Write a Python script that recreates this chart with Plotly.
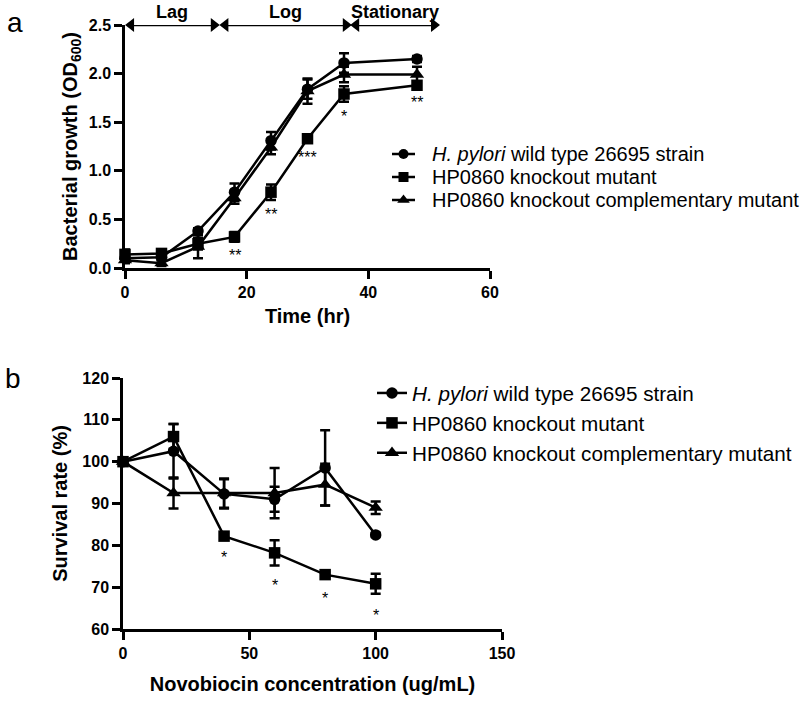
import plotly.graph_objects as go

W, H = 800, 703
FONT = "Liberation Sans, Arial, sans-serif"

# ---------------- Panel a data ----------------
time_hr = [0, 6, 12, 18, 24, 30, 36, 48]
wt_growth = [0.10, 0.11, 0.38, 0.78, 1.31, 1.84, 2.11, 2.15]
wt_growth_err = [0.03, 0.03, 0.03, 0.09, 0.09, 0.10, 0.10, 0.03]
ko_growth = [0.14, 0.15, 0.25, 0.32, 0.78, 1.33, 1.79, 1.88]
ko_growth_err = [0.05, 0.04, 0.06, 0.05, 0.08, 0.04, 0.08, 0.04]
comp_growth = [0.08, 0.05, 0.22, 0.72, 1.24, 1.82, 1.99, 1.99]
comp_growth_err = [0.03, 0.03, 0.12, 0.06, 0.07, 0.13, 0.08, 0.08]

sig_a_x = [18, 24, 30, 36, 48]
sig_a_y = [0.17, 0.59, 1.18, 1.60, 1.74]
sig_a_text = ["**", "**", "***", "*", "**"]

phase_names = ["Lag", "Log", "Stationary"]
phase_start = [1.0, 16.5, 38.0]
phase_end = [14.6, 36.3, 50.8]
phase_level = 2.5

# ---------------- Panel b data ----------------
novo_conc = [0, 20, 40, 60, 80, 100]
wt_surv = [100, 102.5, 92.3, 91.0, 98.5, 82.5]
wt_surv_err = [0.5, 6.5, 3.5, 3.0, 9.0, 0.5]
ko_surv = [100, 106.0, 82.2, 78.2, 73.0, 70.8]
ko_surv_err = [0.5, 3.0, 0.8, 3.0, 0.6, 2.4]
comp_surv = [100, 92.5, 92.5, 92.5, 94.5, 89.0]
comp_surv_err = [0.5, 3.7, 3.5, 6.0, 5.0, 1.5]

sig_b_x = [40, 60, 80, 100]
sig_b_y = [78.0, 71.3, 68.2, 64.2]
sig_b_text = ["*", "*", "*", "*"]

names = ["<i>H. pylori</i> wild type 26695 strain",
         "HP0860 knockout mutant",
         "HP0860 knockout complementary mutant"]

# ---------------- styles ----------------
symbols = ["circle", "square", "triangle-up"]
msizes = [11.5, 11.5, 12.5]
# compact legend for panel a, laid out on a small helper axis (pixel units)
LEG_X0, LEG_X1, LEG_Y0, LEG_Y1 = 380, 800, 135, 220
leg_a_rows = [154, 177, 200]
leg_a_line = (392, 415)
leg_a_text_x = 430

fig = go.Figure()

def add_series(x, y, err, i, xa, ya, leg, show):
    fig.add_trace(go.Scatter(
        x=x, y=y, mode="lines+markers", name=names[i],
        xaxis=xa, yaxis=ya, legend=leg, showlegend=show, cliponaxis=False,
        line=dict(color="black", width=2.5),
        marker=dict(symbol=symbols[i], size=msizes[i], color="black"),
        error_y=dict(type="data", array=err, visible=True,
                     color="black", thickness=2.5, width=5),
    ))

add_series(time_hr, wt_growth, wt_growth_err, 0, "x", "y", "legend", False)
add_series(time_hr, ko_growth, ko_growth_err, 1, "x", "y", "legend", False)
add_series(time_hr, comp_growth, comp_growth_err, 2, "x", "y", "legend", False)
add_series(novo_conc, wt_surv, wt_surv_err, 0, "x2", "y2", "legend2", True)
add_series(novo_conc, ko_surv, ko_surv_err, 1, "x2", "y2", "legend2", True)
add_series(novo_conc, comp_surv, comp_surv_err, 2, "x2", "y2", "legend2", True)

# growth phase double arrows
for s, e in zip(phase_start, phase_end):
    fig.add_trace(go.Scatter(
        x=[s, e], y=[phase_level, phase_level], mode="lines+markers",
        xaxis="x", yaxis="y", showlegend=False, hoverinfo="skip", cliponaxis=False,
        line=dict(color="black", width=2.5),
        marker=dict(symbol=["triangle-left", "triangle-right"], size=12, color="black")))

annotations = []
for i, row in enumerate(leg_a_rows):
    fig.add_trace(go.Scatter(
        x=list(leg_a_line), y=[row, row], mode="lines", xaxis="x3", yaxis="y3",
        showlegend=False, hoverinfo="skip", cliponaxis=False,
        line=dict(color="black", width=2.5)))
    fig.add_trace(go.Scatter(
        x=[sum(leg_a_line) / 2], y=[row], mode="markers", xaxis="x3", yaxis="y3",
        showlegend=False, hoverinfo="skip", cliponaxis=False,
        marker=dict(symbol=symbols[i], size=msizes[i] - 1.5, color="black")))
    annotations.append(dict(x=leg_a_text_x, y=row, xref="x3", yref="y3", text=names[i],
                            showarrow=False, xanchor="left", yanchor="middle",
                            font=dict(family=FONT, size=20, color="black")))

tickfont = dict(family=FONT, size=16, color="black", weight="bold")
titlefont = dict(family=FONT, size=20, color="black", weight="bold")
axis_common = dict(showline=True, linecolor="black", linewidth=2.5,
                   ticks="outside", ticklen=8, tickwidth=2.5, tickcolor="black",
                   showgrid=False, zeroline=False, tickfont=tickfont, automargin=False)

for sx, sy, st in zip(sig_a_x, sig_a_y, sig_a_text):
    annotations.append(dict(x=sx, y=sy, xref="x", yref="y", text=st, showarrow=False,
                            yshift=-4, font=dict(family=FONT, size=16, color="black")))
for sx, sy, st in zip(sig_b_x, sig_b_y, sig_b_text):
    annotations.append(dict(x=sx, y=sy, xref="x2", yref="y2", text=st, showarrow=False,
                            yshift=-4, font=dict(family=FONT, size=16, color="black")))
for nm, s, e in zip(phase_names, phase_start, phase_end):
    annotations.append(dict(x=(s + e) / 2, y=phase_level, xref="x", yref="y", text=nm,
                            showarrow=False, yshift=13,
                            font=dict(family=FONT, size=18, color="black", weight="bold")))
annotations.append(dict(x=5 / W, y=1 - 23 / H, xref="paper", yref="paper", text="a",
                        showarrow=False, xanchor="left", yanchor="middle",
                        font=dict(family=FONT, size=28, color="black")))
annotations.append(dict(x=3 / W, y=1 - 378 / H, xref="paper", yref="paper", text="b",
                        showarrow=False, xanchor="left", yanchor="middle",
                        font=dict(family=FONT, size=28, color="black")))

fig.update_layout(
    width=W, height=H, margin=dict(l=0, r=0, t=0, b=0, autoexpand=False),
    paper_bgcolor="white", plot_bgcolor="rgba(0,0,0,0)",
    font=dict(family=FONT, color="black"),
    xaxis=dict(domain=[125 / W, 490 / W], range=[0, 60], dtick=20, anchor="y",
               title=dict(text="Time (hr)", font=titlefont, standoff=10), **axis_common),
    yaxis=dict(domain=[1 - 268 / H, 1 - 25 / H], range=[0, 2.5], dtick=0.5,
               tickformat=".1f", anchor="x",
               title=dict(text="Bacterial growth (OD<sub>600</sub>)", font=titlefont,
                          standoff=6), **axis_common),
    xaxis2=dict(domain=[123 / W, 502 / W], range=[0, 150], dtick=50, anchor="y2",
                title=dict(text="Novobiocin concentration (ug/mL)", font=titlefont,
                           standoff=17), **axis_common),
    yaxis2=dict(domain=[1 - 629 / H, 1 - 378 / H], range=[60, 120], dtick=10,
                anchor="x2",
                title=dict(text="Survival rate (%)", font=titlefont, standoff=10),
                **axis_common),
    xaxis3=dict(domain=[LEG_X0 / W, LEG_X1 / W], range=[LEG_X0, LEG_X1], visible=False,
                anchor="y3", fixedrange=True),
    yaxis3=dict(domain=[1 - LEG_Y1 / H, 1 - LEG_Y0 / H], range=[LEG_Y1, LEG_Y0],
                visible=False, anchor="x3", fixedrange=True),
    legend2=dict(x=372 / W, y=1 - 373 / H, xanchor="left", yanchor="top",
                 font=dict(family=FONT, size=20.7, color="black"),
                 bgcolor="rgba(0,0,0,0)", borderwidth=0,
                 traceorder="normal", itemwidth=30),
    annotations=annotations,
    showlegend=True,
)

fig.write_html("out.html", config={"displayModeBar": False},
               post_script="document.body.style.margin='0px';")
